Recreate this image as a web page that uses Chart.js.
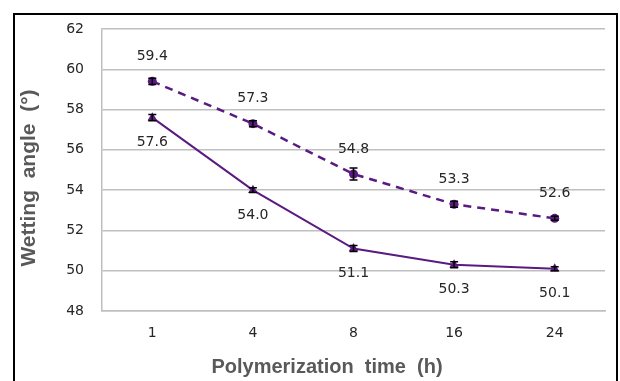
<!DOCTYPE html>
<html><head><meta charset="utf-8">
<script src="https://cdn.jsdelivr.net/npm/chart.js@4"></script>
<style>html,body{margin:0;padding:0;background:#fff}#wrap{width:620px;height:381px;position:relative}</style>
</head><body><div id="wrap"><canvas id="c" width="620" height="381"></canvas></div>
<script>
const categories = ["1", "4", "8", "16", "24"];
const solidValues = [57.6, 54.0, 51.1, 50.3, 50.1];
const solidErrors = [0.15, 0.12, 0.15, 0.15, 0.1];
const dashedValues = [59.4, 57.3, 54.8, 53.3, 52.6];
const dashedErrors = [0.15, 0.15, 0.3, 0.15, 0.1];
const yTicks = [48, 50, 52, 54, 56, 58, 60, 62];
const xTitle = 'Polymerization  time  (h)';
const yTitle = 'Wetting  angle  (°)';

const purple = '#5a1a82';

const extras = {
  id: 'extras',
  beforeDraw(chart) {
    const ctx = chart.ctx;
    ctx.save();
    ctx.fillStyle = '#fff';
    ctx.fillRect(0, 0, chart.width, chart.height);
    ctx.strokeStyle = '#000';
    ctx.lineWidth = 2;
    ctx.strokeRect(14, 14, 603, 380);
    ctx.fillStyle = '#595959';
    ctx.font = 'bold 20px "Liberation Sans"';
    ctx.textAlign = 'center';
    ctx.textBaseline = 'middle';
    ctx.fillText(xTitle, 327, 367);
    ctx.font = 'bold 21px "Liberation Sans"';
    ctx.translate(29, 178);
    ctx.rotate(-Math.PI / 2);
    ctx.fillText(yTitle, 0, 0);
    ctx.restore();
  },
  afterDatasetsDraw(chart) {
    const ctx = chart.ctx;
    const y = chart.scales.y;
    ctx.save();
    chart.data.datasets.forEach((ds, i) => {
      const meta = chart.getDatasetMeta(i);
      meta.data.forEach((pt, j) => {
        const v = ds.data[j], e = ds.errors[j];
        const yt = y.getPixelForValue(v + e), yb = y.getPixelForValue(v - e);
        ctx.strokeStyle = '#000';
        ctx.lineWidth = 1.5;
        ctx.beginPath();
        ctx.moveTo(pt.x, yt); ctx.lineTo(pt.x, yb);
        ctx.moveTo(pt.x - 4, yt); ctx.lineTo(pt.x + 4, yt);
        ctx.moveTo(pt.x - 4, yb); ctx.lineTo(pt.x + 4, yb);
        ctx.stroke();
        ctx.fillStyle = '#262626';
        ctx.font = '14px "DejaVu Sans"';
        ctx.textAlign = 'center';
        ctx.textBaseline = 'middle';
        const off = ds.labelPos === 'above' ? -25 : 25;
        ctx.fillText(v.toFixed(1), pt.x, pt.y + off);
      });
    });
    ctx.restore();
  }
};

new Chart(document.getElementById('c'), {
  type: 'line',
  data: {
    labels: categories,
    datasets: [
      { data: dashedValues, errors: dashedErrors, labelPos: 'above',
        borderColor: purple, backgroundColor: purple, borderWidth: 2.5,
        borderDash: [8, 6], pointStyle: 'circle', pointRadius: 4.5,
        pointBorderWidth: 0, tension: 0 },
      { data: solidValues, errors: solidErrors, labelPos: 'below',
        borderColor: purple, backgroundColor: purple, borderWidth: 2,
        pointStyle: 'triangle', pointRadius: 5.5, pointBorderWidth: 0, tension: 0 }
    ]
  },
  options: {
    responsive: false,
    animation: false,
    layout: { padding: { left: 20, right: 15, top: 29, bottom: 0 } },
    plugins: { legend: { display: false }, tooltip: { enabled: false } },
    scales: {
      x: {
        offset: true,
        grid: { display: false, drawTicks: false },
        border: { color: '#bfbfbf', width: 1.5 },
        ticks: { color: '#262626', font: { family: 'DejaVu Sans', size: 14 }, padding: 14 },
        afterFit(s) { s.height = 70; }
      },
      y: {
        min: 48, max: 62,
        afterBuildTicks(s) { s.ticks = yTicks.map(v => ({ value: v })); },
        grid: { color: '#bfbfbf', lineWidth: 1.5, drawTicks: false },
        border: { color: '#bfbfbf', width: 1.5 },
        ticks: { color: '#262626', font: { family: 'DejaVu Sans', size: 14 }, padding: 18 },
        afterFit(s) { s.width = 82; }
      }
    }
  },
  plugins: [extras]
});
</script></body></html>
